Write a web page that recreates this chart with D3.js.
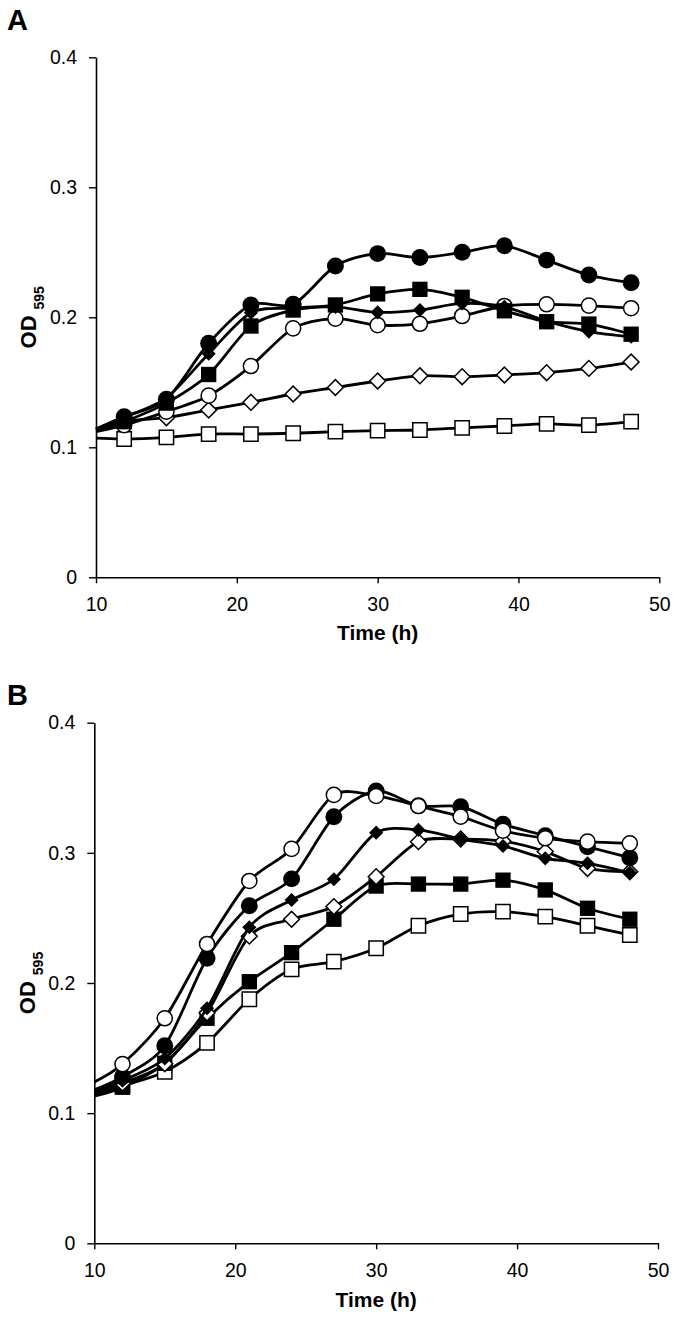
<!DOCTYPE html>
<html>
<head>
<meta charset="utf-8">
<script src="https://cdn.jsdelivr.net/npm/d3@7"></script>
<style>
  html, body { margin: 0; padding: 0; background: #fff; }
  svg { display: block; font-family: "Liberation Sans", Arial, sans-serif; }
</style>
</head>
<body>
<svg id="chart" width="675" height="1319"></svg>
<script>
// ---- data ----
// first time (10) is the start of each smoothed line (no marker drawn there)
const times = [10, 12, 15, 18, 21, 24, 27, 30, 33, 36, 39, 42, 45, 48];
const xTicks = [10, 20, 30, 40, 50];
const yTicks = [0, 0.1, 0.2, 0.3, 0.4];
const yTickLabels = ["0", "0.1", "0.2", "0.3", "0.4"];
const panelLabels = ["A", "B"];
const xTitle = "Time (h)";

// Panel A
const aFilledCircle  = [0.114, 0.1236, 0.137, 0.180, 0.2095, 0.210, 0.2395, 0.249, 0.246, 0.250, 0.255, 0.244, 0.2325, 0.2266];
const aFilledSquare  = [0.113, 0.1197, 0.134, 0.156, 0.1933, 0.2056, 0.2095, 0.218, 0.2215, 0.2154, 0.205, 0.1966, 0.1948, 0.187];
const aFilledDiamond = [0.114, 0.123, 0.138, 0.172, 0.2035, 0.207, 0.208, 0.2038, 0.2056, 0.2107, 0.208, 0.197, 0.189, 0.185];
const aOpenCircle    = [0.112, 0.117, 0.1274, 0.1397, 0.1625, 0.1915, 0.199, 0.194, 0.195, 0.201, 0.2087, 0.210, 0.209, 0.207];
const aOpenDiamond   = [0.114, 0.120, 0.1228, 0.1287, 0.1346, 0.141, 0.146, 0.151, 0.155, 0.1543, 0.1556, 0.1574, 0.1607, 0.1656];
const aOpenSquare    = [0.107, 0.1064, 0.1077, 0.1102, 0.1102, 0.1108, 0.112, 0.1128, 0.1133, 0.115, 0.1164, 0.118, 0.117, 0.1197];

// Panel B
const bFilledCircle  = [0.118, 0.128, 0.1518, 0.219, 0.2594, 0.280, 0.3278, 0.3475, 0.3362, 0.3355, 0.322, 0.3132, 0.3047, 0.2963];
const bFilledSquare  = [0.113, 0.1199, 0.1383, 0.1729, 0.201, 0.2233, 0.249, 0.2745, 0.276, 0.276, 0.279, 0.2715, 0.2574, 0.249];
const bFilledDiamond = [0.117, 0.125, 0.142, 0.1806, 0.2428, 0.2638, 0.2797, 0.3155, 0.3176, 0.3106, 0.3053, 0.2958, 0.292, 0.2848];
const bOpenCircle    = [0.124, 0.1377, 0.1729, 0.230, 0.2784, 0.303, 0.3445, 0.3437, 0.336, 0.3278, 0.317, 0.3112, 0.3086, 0.3073];
const bOpenDiamond   = [0.116, 0.123, 0.138, 0.177, 0.236, 0.249, 0.2587, 0.2817, 0.3086, 0.3106, 0.309, 0.301, 0.288, 0.2855];
const bOpenSquare    = [0.114, 0.121, 0.1318, 0.154, 0.1875, 0.2105, 0.2164, 0.2267, 0.244, 0.253, 0.2548, 0.251, 0.244, 0.2369];

// ---- styles for marker types ----
const markerStyles = {
  filledCircle:  { type: d3.symbolCircle, size: 225, fill: "#000", stroke: "none", rot: 0 },
  filledSquare:  { type: d3.symbolSquare, size: 235, fill: "#000", stroke: "none", rot: 0 },
  filledDiamond: { type: d3.symbolSquare, size: 100, fill: "#000", stroke: "none", rot: 45 },
  openCircle:    { type: d3.symbolCircle, size: 180, fill: "#fff", stroke: "#000", rot: 0 },
  openDiamond:   { type: d3.symbolSquare, size: 125, fill: "#fff", stroke: "#000", rot: 45 },
  openSquare:    { type: d3.symbolSquare, size: 205, fill: "#fff", stroke: "#000", rot: 0 }
};

const panels = [
  {
    label: panelLabels[0], labelX: 7, labelY: 30,
    x0: 96, x1: 659.3, yTop: 57.3, yBottom: 577.3, titleY: 640, odX: 36,
    series: [
      { kind: "openSquare",    values: aOpenSquare },
      { kind: "openDiamond",   values: aOpenDiamond },
      { kind: "openCircle",    values: aOpenCircle },
      { kind: "filledDiamond", values: aFilledDiamond },
      { kind: "filledSquare",  values: aFilledSquare },
      { kind: "filledCircle",  values: aFilledCircle }
    ]
  },
  {
    label: panelLabels[1], labelX: 7, labelY: 705,
    x0: 94.3, x1: 658, yTop: 722.7, yBottom: 1243.3, titleY: 1307, odX: 35,
    series: [
      { kind: "openSquare",    values: bOpenSquare },
      { kind: "filledSquare",  values: bFilledSquare },
      { kind: "openDiamond",   values: bOpenDiamond },
      { kind: "filledDiamond", values: bFilledDiamond },
      { kind: "filledCircle",  values: bFilledCircle },
      { kind: "openCircle",    values: bOpenCircle }
    ]
  }
];

const svg = d3.select("#chart");
svg.append("rect").attr("width", 675).attr("height", 1319).attr("fill", "#fff");

panels.forEach(p => {
  const x = d3.scaleLinear().domain([10, 50]).range([p.x0, p.x1]);
  const y = d3.scaleLinear().domain([0, 0.4]).range([p.yBottom, p.yTop]);
  const g = svg.append("g");

  // panel letter
  g.append("text").attr("x", p.labelX).attr("y", p.labelY)
    .attr("font-size", 29).attr("font-weight", "bold").text(p.label);

  // axes
  const yAxis = d3.axisLeft(y).tickValues(yTicks)
    .tickFormat((d, i) => yTickLabels[i]).tickSize(7).tickPadding(12).tickSizeOuter(0);
  const yg = g.append("g").attr("transform", `translate(${p.x0},0)`).call(yAxis);
  const xAxis = d3.axisBottom(x).tickValues(xTicks).tickFormat(d3.format("d"))
    .tickSize(6).tickPadding(14).tickSizeOuter(0);
  const xg = g.append("g").attr("transform", `translate(0,${p.yBottom})`).call(xAxis);
  [yg, xg].forEach(a => {
    a.select(".domain").attr("stroke", "#000").attr("stroke-width", 1.6);
    a.selectAll(".tick line").attr("stroke", "#000").attr("stroke-width", 1.4);
    a.selectAll(".tick text").attr("font-size", 19.5).attr("fill", "#000")
      .attr("font-family", "'Liberation Sans', Arial, sans-serif");
  });

  // axis titles
  g.append("text").attr("x", (p.x0 + p.x1) / 2).attr("y", p.titleY)
    .attr("text-anchor", "middle").attr("font-size", 21).attr("font-weight", "bold")
    .text(xTitle);
  const od = g.append("text")
    .attr("transform", `translate(${p.odX},${(p.yTop + p.yBottom) / 2}) rotate(-90)`)
    .attr("text-anchor", "middle").attr("font-size", 22).attr("font-weight", "bold");
  od.append("tspan").text("OD");
  od.append("tspan").attr("font-size", 14).attr("dx", 6).attr("dy", 8).text("595");

  const line = d3.line()
    .x((d, i) => x(times[i]))
    .y(d => y(d))
    .curve(d3.curveCardinal.tension(0.15));

  p.series.forEach(s => {
    const st = markerStyles[s.kind];
    const sg = g.append("g");
    sg.append("path").datum(s.values).attr("d", line)
      .attr("fill", "none").attr("stroke", "#000").attr("stroke-width", 2.8)
      .attr("stroke-linejoin", "round");
    const sym = d3.symbol().type(st.type).size(st.size);
    sg.selectAll("path.m").data(s.values.slice(1)).join("path")
      .attr("class", "m")
      .attr("d", sym)
      .attr("transform", (d, i) => `translate(${x(times[i + 1])},${y(d)}) rotate(${st.rot})`)
      .attr("fill", st.fill)
      .attr("stroke", st.stroke)
      .attr("stroke-width", st.stroke === "none" ? 0 : 1.5);
  });
});
</script>
</body>
</html>
